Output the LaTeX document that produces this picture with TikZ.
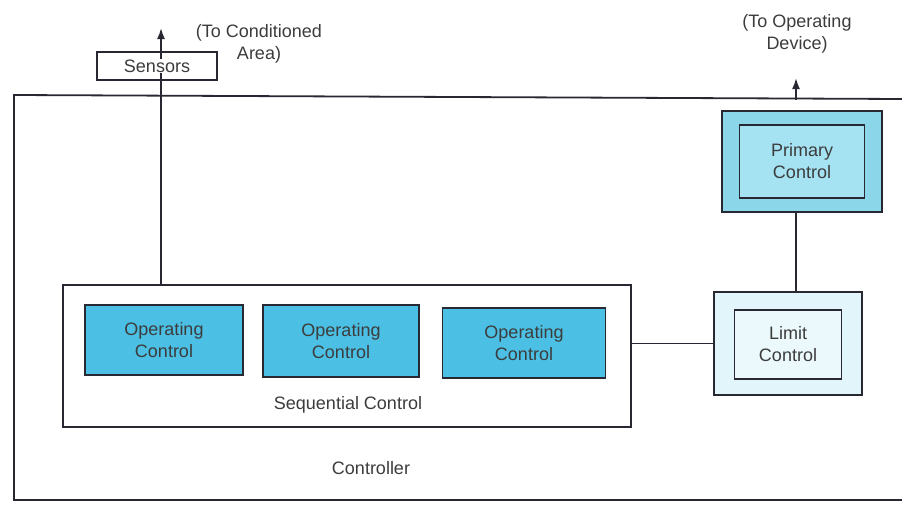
\documentclass[tikz,border=0pt]{standalone}
\usepackage{fontspec}
\setmainfont{Liberation Sans}
\usetikzlibrary{arrows.meta}
\definecolor{opfill}{RGB}{75,192,228}
\definecolor{primout}{RGB}{140,214,234}
\definecolor{primin}{RGB}{165,226,242}
\definecolor{limout}{RGB}{226,245,250}
\definecolor{limin}{RGB}{236,249,252}
\definecolor{txt}{RGB}{60,60,60}
\definecolor{edge}{RGB}{40,40,50}
\tikzset{
  lbl/.style={font=\fontsize{18}{22}\selectfont, text=txt, align=center, inner sep=0pt},
  box/.style={draw=edge, line width=1.8pt, inner sep=0pt},
  conn/.style={draw=edge, line width=1.8pt},
  arr/.style={conn, -{Latex[length=11pt,width=8pt]}}
}
\begin{document}
\begin{tikzpicture}[x=1pt,y=-1pt]
\useasboundingbox (0,0) rectangle (902,506);
% controller outer frame (right edge off image)
\draw[conn] (902,99) -- (14,95) -- (14,500) -- (902,500);
\node[lbl] (ctl) at (371,468) {Controller};
% sequential control
\node[box, minimum width=568pt, minimum height=142pt] (seq) at (347,356) {};
\node[lbl] (seqlbl) at (348,405) {Sequential Control};
\node[box, fill=opfill, minimum width=158pt, minimum height=70pt, lbl] (op1) at (164,340) {Operating\\Control};
\node[box, fill=opfill, minimum width=156pt, minimum height=72pt, lbl] (op2) at (341,341) {Operating\\Control};
\node[box, fill=opfill, minimum width=163pt, minimum height=70pt, lbl] (op3) at (524,343) {Operating\\Control};
% primary control
\node[box, fill=primout, minimum width=160pt, minimum height=101pt] (prim) at (802,161.5) {};
\node[box, fill=primin, minimum width=125pt, minimum height=73pt, lbl] (primin) at (802,161.5) {Primary\\Control};
% limit control
\node[box, fill=limout, minimum width=148pt, minimum height=103pt] (lim) at (788,343.5) {};
\node[box, fill=limin, minimum width=107pt, minimum height=69pt, lbl] (limin) at (788,344.5) {Limit\\Control};
% sensors
\node[box, fill=white, minimum width=120pt, minimum height=28pt, lbl] (sens) at (157,66) {};
\coordinate (sensTop) at (161,28);
\draw[arr] (seq.north -| sensTop) -- (sensTop);
\node[lbl, fill=white, inner sep=1pt] (senslbl) at (157,66) {Sensors};
\node[lbl] (toCond) at (259,44) {(To Conditioned\\Area)};
% primary to operating device
\coordinate (opTop) at (796,78);
\coordinate (opBase) at (796,100);
\draw[arr] (opBase) -- (opTop);
\node[lbl] (toDev) at (797,34) {(To Operating\\Device)};
% connections
\draw[conn] (prim.south -| opBase) -- (lim.north -| opBase);
\draw[conn] (seq.east |- lim.west) -- (lim.west);
\end{tikzpicture}
\end{document}
